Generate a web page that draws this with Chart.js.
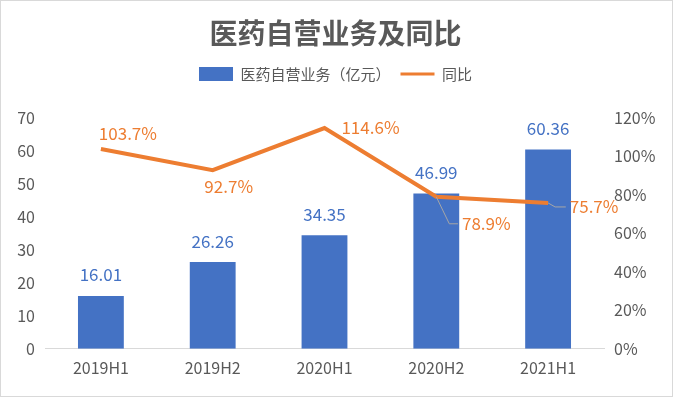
<!DOCTYPE html>
<html>
<head>
<meta charset="utf-8">
<script src="https://cdn.jsdelivr.net/npm/chart.js@4/dist/chart.umd.min.js"></script>
<style>
  html, body { margin: 0; padding: 0; background: #fff; }
  #wrap { position: relative; width: 671px; height: 395px; border: 1px solid #d9d9d9; }
</style>
</head>
<body>
<div id="wrap"><canvas id="myChart" width="671" height="395"></canvas></div>
<script>
const periodi = ['2019H1', '2019H2', '2020H1', '2020H2', '2021H1'];
const ricavi = [16.01, 26.26, 34.35, 46.99, 60.36];      // 亿元
const crescita = [103.7, 92.7, 114.6, 78.9, 75.7];       // %

const blu = '#4472C4';
const arancio = '#ED7D31';
const grigio = '#595959';
const font = '"Noto Sans CJK SC", "Noto Sans", sans-serif';

// spostamento etichette della linea rispetto al punto [dx, dy, leader]
const posEtichette = [[27, -15, false], [16, 16, false], [46, 0, false], [50, 27, true], [46, 4, true]];

// spazio in più sotto la legenda
const spazioLegenda = {
  id: 'spazioLegenda',
  beforeUpdate(chart) {
    const lg = chart.legend;
    if (lg && !lg._patch) {
      const fit = lg.fit;
      lg.fit = function () { fit.call(this); this.height += 26; };
      lg._patch = true;
    }
  }
};

const etichettePlugin = {
  id: 'etichette',
  afterDatasetsDraw(chart) {
    const { ctx } = chart;
    ctx.save();
    ctx.font = '17px ' + font;
    ctx.textAlign = 'center';
    ctx.textBaseline = 'middle';

    const barre = chart.getDatasetMeta(0).data;
    barre.forEach((b, i) => {
      ctx.fillStyle = blu;
      ctx.fillText(ricavi[i].toFixed(2), b.x, b.y - 21);
    });

    const punti = chart.getDatasetMeta(1).data;
    punti.forEach((p, i) => {
      const [dx, dy, leader] = posEtichette[i];
      const tx = p.x + dx, ty = p.y + dy;
      const testo = crescita[i].toFixed(1) + '%';
      if (leader) {
        const sx = tx - ctx.measureText(testo).width / 2 - 4;
        ctx.strokeStyle = '#a6a6a6';
        ctx.lineWidth = 1;
        ctx.beginPath();
        ctx.moveTo(p.x, p.y);
        ctx.lineTo(p.x + (dy > 10 ? 13 : 7), ty);
        ctx.lineTo(sx, ty);
        ctx.stroke();
      }
      ctx.fillStyle = arancio;
      ctx.fillText(testo, tx, ty);
    });
    ctx.restore();
  }
};

new Chart('myChart', {
  data: {
    labels: periodi,
    datasets: [{
      type: 'bar',
      label: '医药自营业务（亿元）',
      data: ricavi,
      backgroundColor: blu,
      yAxisID: 'y',
      barPercentage: 0.82,
      categoryPercentage: 0.5,
      order: 2
    }, {
      type: 'line',
      label: '同比',
      data: crescita,
      borderColor: arancio,
      backgroundColor: arancio,
      borderWidth: 4,
      pointRadius: 0,
      tension: 0,
      yAxisID: 'y1',
      order: 1
    }]
  },
  options: {
    responsive: false,
    animation: false,
    layout: { padding: { left: 10, right: 12, top: 8, bottom: 16 } },
    plugins: {
      title: {
        display: true,
        text: '医药自营业务及同比',
        color: grigio,
        font: { family: font, size: 28, weight: 'bold' },
        padding: { top: 8, bottom: 6 }
      },
      legend: {
        labels: {
          color: grigio,
          font: { family: font, size: 15 },
          usePointStyle: true,
          pointStyleWidth: 34,
          boxHeight: 14,
          padding: 10,
          generateLabels(chart) {
            return chart.data.datasets.map((d, i) => ({
              text: d.label,
              fillStyle: d.type === 'bar' ? blu : arancio,
              strokeStyle: d.type === 'bar' ? blu : arancio,
              lineWidth: d.type === 'bar' ? 0 : 3,
              pointStyle: d.type === 'bar' ? 'rect' : 'line',
              datasetIndex: i,
              fontColor: grigio
            }));
          }
        }
      },
      tooltip: { enabled: false }
    },
    scales: {
      x: {
        grid: { display: false },
        border: { color: '#d9d9d9' },
        ticks: { color: grigio, font: { family: font, size: 16 }, padding: 2 }
      },
      y: {
        position: 'left',
        min: 0, max: 70,
        grid: { display: false },
        border: { display: false },
        ticks: { stepSize: 10, color: grigio, font: { family: font, size: 16 }, padding: 2 },
        afterFit(s) { s.width = 34; }
      },
      y1: {
        position: 'right',
        min: 0, max: 120,
        grid: { display: false },
        border: { display: false },
        ticks: { stepSize: 20, color: grigio, font: { family: font, size: 16 }, padding: 2,
          callback: v => v + '%' },
        afterFit(s) { s.width = 56; }
      }
    }
  },
  plugins: [spazioLegenda, etichettePlugin]
});
</script>
</body>
</html>
